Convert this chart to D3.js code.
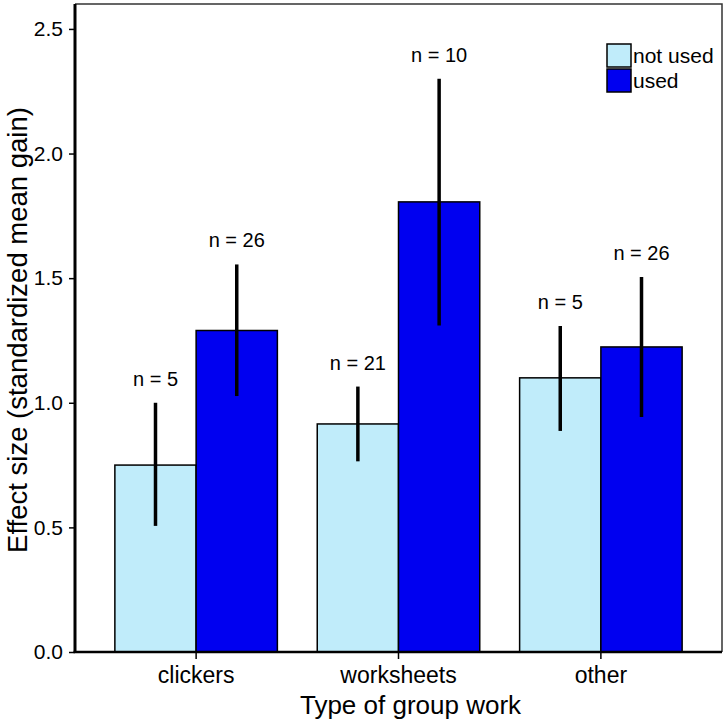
<!DOCTYPE html>
<html>
<head>
<meta charset="utf-8">
<script src="https://cdn.jsdelivr.net/npm/d3@7"></script>
<style>
  body { margin: 0; background: #fff; }
  text { font-family: "Liberation Sans", Arial, Helvetica, sans-serif; fill: #000; }
</style>
</head>
<body>
<svg id="chart"></svg>
<script>
  var groups = ["clickers", "worksheets", "other"];
  var seriesNames = ["not used", "used"];
  var notUsedMean = [0.75, 0.915, 1.10];
  var notUsedLow = [0.506, 0.765, 0.887];
  var notUsedHigh = [1.0, 1.065, 1.308];
  var notUsedN = [5, 21, 5];
  var usedMean = [1.29, 1.806, 1.224];
  var usedLow = [1.027, 1.31, 0.943];
  var usedHigh = [1.555, 2.30, 1.505];
  var usedN = [26, 10, 26];
  var yTicks = [0, 0.5, 1.0, 1.5, 2.0, 2.5];

  var svgW = 728,
      svgH = 723;
  var margin = {top: 4, right: 6, bottom: 71, left: 75};
  var colors = ["#c0ecfa", "#0000f0"];

  var svg = d3.select("#chart").attr("width", svgW).attr("height", svgH);

  // one row per bar
  var rows = [];
  groups.forEach(function(g, i) {
    rows.push({group: g, series: 0, mean: notUsedMean[i], lo: notUsedLow[i], hi: notUsedHigh[i], n: notUsedN[i]});
    rows.push({group: g, series: 1, mean: usedMean[i], lo: usedLow[i], hi: usedHigh[i], n: usedN[i]});
  });

  var x = d3.scaleBand().domain(groups)
    .range([margin.left, svgW - margin.right])
    .paddingInner(0.197).paddingOuter(0.197);
  var xs = d3.scaleBand().domain([0, 1]).range([0, x.bandwidth()]);
  var y = d3.scaleLinear().domain([0, 2.6]).range([svgH - margin.bottom, margin.top]);

  // bars
  svg.append("g").selectAll("rect")
    .data(rows).enter()
    .append("rect")
      .attr("x", function(d) { return x(d.group) + xs(d.series); })
      .attr("y", function(d) { return y(d.mean); })
      .attr("width", xs.bandwidth())
      .attr("height", function(d) { return y(0) - y(d.mean); })
      .attr("fill", function(d) { return colors[d.series]; })
      .attr("stroke", "#000")
      .attr("stroke-width", 1.5);

  // error bars
  svg.append("g").selectAll("line")
    .data(rows).enter()
    .append("line")
      .attr("x1", function(d) { return x(d.group) + xs(d.series) + xs.bandwidth() / 2; })
      .attr("x2", function(d) { return x(d.group) + xs(d.series) + xs.bandwidth() / 2; })
      .attr("y1", function(d) { return y(d.lo); })
      .attr("y2", function(d) { return y(d.hi); })
      .attr("stroke", "#000")
      .attr("stroke-width", 3.5);

  // n labels
  svg.append("g").selectAll("text")
    .data(rows).enter()
    .append("text")
      .attr("x", function(d) { return x(d.group) + xs(d.series) + xs.bandwidth() / 2; })
      .attr("y", function(d) { return y(d.hi) - 17; })
      .attr("text-anchor", "middle")
      .style("font-size", "20px")
      .text(function(d) { return "n = " + d.n; });

  // frame: thin top/right, thick left/bottom
  svg.append("path")
    .attr("d", "M" + margin.left + "," + margin.top + "H" + (svgW - margin.right) + "V" + y(0))
    .attr("fill", "none").attr("stroke", "#333").attr("stroke-width", 1.5);

  var yAxis = svg.append("g")
    .attr("transform", "translate(" + margin.left + ",0)")
    .call(d3.axisLeft(y).tickValues(yTicks).tickFormat(d3.format(".1f")).tickSize(6).tickPadding(6));
  yAxis.select(".domain").remove();
  yAxis.selectAll(".tick line").attr("stroke", "#000").attr("stroke-width", 1.5);
  yAxis.selectAll("text").style("font-size", "21px");
  svg.append("line")
    .attr("x1", margin.left).attr("x2", margin.left)
    .attr("y1", margin.top).attr("y2", y(0))
    .attr("stroke", "#000").attr("stroke-width", 3);

  var xAxis = svg.append("g")
    .attr("transform", "translate(0," + y(0) + ")")
    .call(d3.axisBottom(x).tickSize(7).tickPadding(8));
  xAxis.select(".domain").remove();
  xAxis.selectAll(".tick line").attr("stroke", "#000").attr("stroke-width", 1.5);
  xAxis.selectAll("text").style("font-size", "23px");
  svg.append("line")
    .attr("x1", margin.left - 1.5).attr("x2", svgW - margin.right)
    .attr("y1", y(0)).attr("y2", y(0))
    .attr("stroke", "#000").attr("stroke-width", 2.5);

  // axis titles
  svg.append("text")
    .attr("x", (margin.left + svgW - margin.right) / 2 + 12)
    .attr("y", 714)
    .attr("text-anchor", "middle")
    .style("font-size", "26px")
    .text("Type of group work");

  svg.append("text")
    .attr("transform", "translate(27," + ((margin.top + y(0)) / 2 + 2) + ") rotate(-90)")
    .attr("text-anchor", "middle")
    .style("font-size", "27.5px")
    .text("Effect size (standardized mean gain)");

  // legend
  var legend = svg.append("g").attr("transform", "translate(607,44)");
  var item = legend.selectAll("g")
    .data(seriesNames).enter()
    .append("g")
      .attr("transform", function(d, i) { return "translate(0," + (i * 25) + ")"; });
  item.append("rect")
    .attr("width", 24).attr("height", 23)
    .attr("fill", function(d, i) { return colors[i]; })
    .attr("stroke", "#000").attr("stroke-width", 1.5);
  item.append("text")
    .attr("x", 26).attr("y", 19)
    .style("font-size", "21px")
    .text(function(d) { return d; });
</script>
</body>
</html>
